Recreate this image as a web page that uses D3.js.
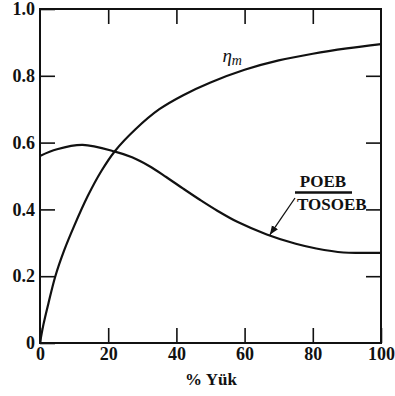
<!DOCTYPE html>
<html lang="tr">
<head>
<meta charset="UTF-8">
<title>Verim - Yük</title>
<script src="https://d3js.org/d3.v7.min.js"></script>
<style>
    body { margin: 0; background: #fff; }
    svg, svg text { font-family: "Liberation Serif", "DejaVu Serif", serif; fill: #111; }
    .axis text { font-size: 18px; font-weight: bold; }
    .axis line { stroke: #111; stroke-width: 1.6px; }
</style>
</head>
<body>
<script>
// load in %
const loadPct = [0, 1, 2.5, 4.5, 7, 10, 14, 18, 22, 28, 35, 42, 50, 60, 70, 80, 90, 100];
const etaM = [0, 0.055, 0.12, 0.2, 0.275, 0.35, 0.44, 0.515, 0.575, 0.64, 0.7, 0.742, 0.78, 0.818, 0.846, 0.866, 0.882, 0.895];

const ratioLoad = [0, 5, 12.5, 22, 27, 32, 37, 42, 47, 52, 58, 66.5, 75, 81, 89, 95, 100];
const ratioVal = [0.56, 0.58, 0.593, 0.573, 0.556, 0.53, 0.497, 0.462, 0.428, 0.396, 0.362, 0.325, 0.297, 0.283, 0.271, 0.27, 0.27];

const xTicks = [0, 20, 40, 60, 80, 100];
const yTicks = [0, 0.2, 0.4, 0.6, 0.8, 1.0];

const W = 395, H = 396;
const plotL = 40, plotR = 381, plotT = 9, plotB = 343;
const serif = '"Liberation Serif", "DejaVu Serif", serif';

const svg = d3.select("body").append("svg")
    .attr("width", W)
    .attr("height", H);

const x = d3.scaleLinear().domain([0, 100]).range([plotL, plotR]);
const y = d3.scaleLinear().domain([0, 1]).range([plotB, plotT]);

// axes with inward ticks
svg.append("g").attr("class", "axis")
    .attr("transform", "translate(" + plotL + ",0)")
    .call(d3.axisLeft(y).tickValues(yTicks).tickSize(-15).tickSizeOuter(0).tickPadding(5)
        .tickFormat(d => d === 0 ? "0" : d3.format(".1f")(d)))
    .call(g => g.select(".domain").remove());

svg.append("g").attr("class", "axis")
    .attr("transform", "translate(0," + plotB + ")")
    .call(d3.axisBottom(x).tickValues(xTicks).tickSize(-15).tickSizeOuter(0).tickPadding(4))
    .call(g => g.select(".domain").remove());

svg.append("g").attr("class", "axis")
    .attr("transform", "translate(" + plotR + ",0)")
    .call(d3.axisRight(y).tickValues([0.2, 0.4, 0.6, 0.8]).tickSize(-15).tickFormat(""))
    .call(g => g.select(".domain").remove());

svg.append("g").attr("class", "axis")
    .attr("transform", "translate(0," + plotT + ")")
    .call(d3.axisTop(x).tickValues([20, 40, 60, 80]).tickSize(-15).tickFormat(""))
    .call(g => g.select(".domain").remove());

svg.selectAll(".axis").attr("font-family", serif).attr("font-size", 18);

// frame
svg.append("rect")
    .attr("x", plotL).attr("y", plotT)
    .attr("width", plotR - plotL).attr("height", plotB - plotT)
    .attr("fill", "none").attr("stroke", "#111").attr("stroke-width", 2);

const line = d3.line().curve(d3.curveCatmullRom.alpha(0.5));

svg.append("path")
    .attr("d", line(loadPct.map((d, i) => [x(d), y(etaM[i])])))
    .attr("fill", "none").attr("stroke", "#111").attr("stroke-width", 2.2);

svg.append("path")
    .attr("d", line(ratioLoad.map((d, i) => [x(d), y(ratioVal[i])])))
    .attr("fill", "none").attr("stroke", "#111").attr("stroke-width", 2.2);

// eta_m label
const eta = svg.append("text")
    .attr("x", x(53.5)).attr("y", y(0.84))
    .attr("font-family", serif)
    .style("font-size", "19px").style("font-style", "italic");
eta.append("tspan").text("η");
eta.append("tspan").attr("dy", 3).style("font-size", "14px").text("m");

// POEB / TOSOEB label
svg.append("text")
    .attr("x", 323).attr("y", 187)
    .attr("text-anchor", "middle")
    .attr("font-family", serif)
    .style("font-size", "17px").style("font-weight", "bold")
    .text("POEB");
svg.append("line")
    .attr("x1", 295).attr("x2", 352)
    .attr("y1", 192.5).attr("y2", 192.5)
    .attr("stroke", "#111").attr("stroke-width", 2.5);
svg.append("text")
    .attr("x", 297).attr("y", 210)
    .attr("font-family", serif)
    .style("font-size", "17px").style("font-weight", "bold")
    .text("TOSOEB");

// arrow to the curve
svg.append("defs").append("marker")
    .attr("id", "ah")
    .attr("viewBox", "0 0 10 10")
    .attr("refX", 10).attr("refY", 5)
    .attr("markerWidth", 7).attr("markerHeight", 7)
    .attr("orient", "auto")
    .append("path").attr("d", "M0,1 L10,5 L0,9 z").attr("fill", "#111");

svg.append("line")
    .attr("x1", 295).attr("y1", 198)
    .attr("x2", x(67.4)).attr("y2", y(0.324))
    .attr("stroke", "#111").attr("stroke-width", 1.3)
    .attr("marker-end", "url(#ah)");

// x title
svg.append("text")
    .attr("x", 211).attr("y", 385)
    .attr("text-anchor", "middle")
    .attr("font-family", serif)
    .style("font-size", "17px").style("font-weight", "bold")
    .text("% Yük");
</script>
</body>
</html>
